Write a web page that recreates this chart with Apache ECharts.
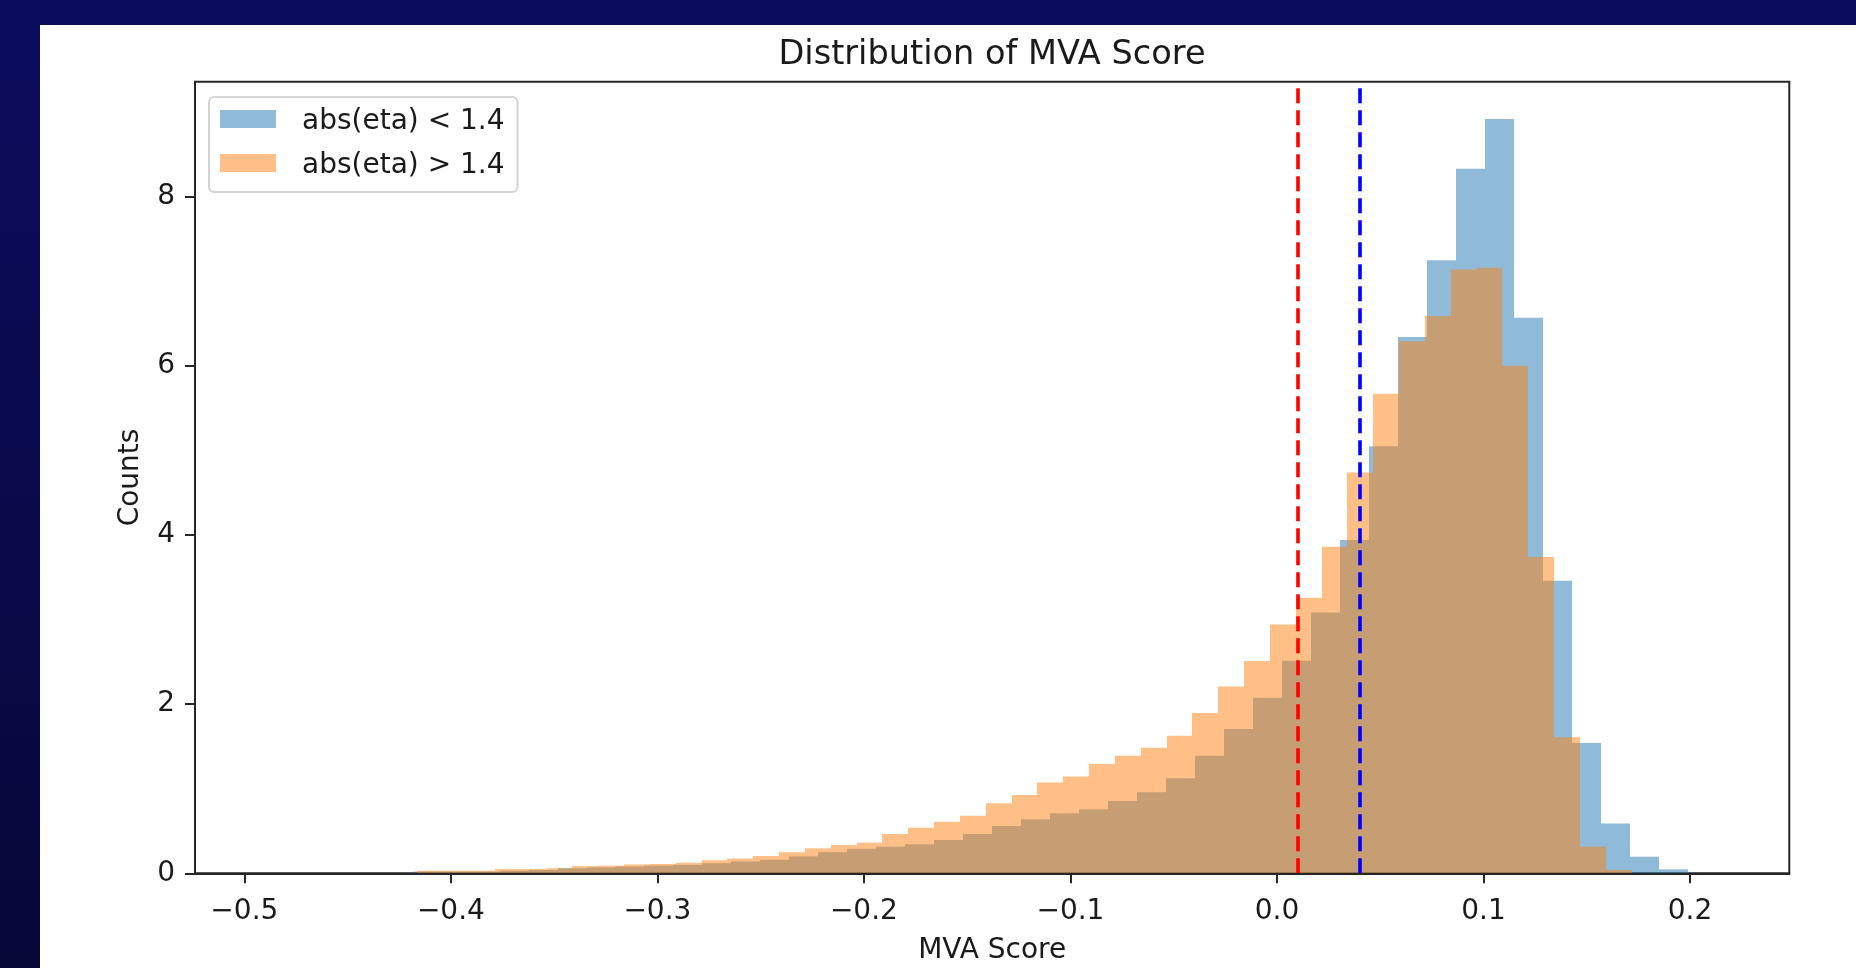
<!DOCTYPE html>
<html>
<head>
<meta charset="utf-8">
<title>Distribution of MVA Score</title>
<script src="https://cdn.jsdelivr.net/npm/echarts@6/dist/echarts.min.js"></script>
<style>
  html, body {
    margin: 0;
    padding: 0;
    width: 1856px;
    height: 968px;
    overflow: hidden;
    background: linear-gradient(to bottom, #0c0c5e 0%, #0a0a4e 45%, #070738 100%);
  }
  #sheet {
    position: absolute;
    left: 40px;
    top: 25px;
    right: 0;
    bottom: 0;
    background: #ffffff;
  }
  #chart {
    position: absolute;
    left: 0;
    top: 0;
    width: 1856px;
    height: 968px;
  }
</style>
</head>
<body>
<div id="sheet"></div>
<div id="chart"></div>
<script>
// Histogram of the MVA score, split by |eta| region.
// Each series: first bin edge, bin width, and the (normalised) count per bin.
const barrelName = 'abs(eta) < 1.4';
const barrelBinStart = -0.4185;
const barrelBinWidth = 0.01403;
const barrelCounts = [
  0.02, 0.02, 0.02, 0.03, 0.04, 0.06, 0.07, 0.08, 0.09, 0.10,
  0.12, 0.14, 0.16, 0.20, 0.25, 0.29, 0.315, 0.343, 0.394, 0.465,
  0.559, 0.638, 0.709, 0.756, 0.855, 0.957, 1.123, 1.390, 1.706, 2.076,
  2.513, 3.085, 3.94, 5.05, 6.34, 7.25, 8.33, 8.92, 6.57, 3.46,
  1.54, 0.59, 0.196, 0.047
];

const endcapName = 'abs(eta) > 1.4';
const endcapBinStart = -0.4162;
const endcapBinWidth = 0.01251;
const endcapCounts = [
  0.03, 0.03, 0.03, 0.05, 0.05, 0.06, 0.085, 0.09, 0.105, 0.11,
  0.125, 0.155, 0.175, 0.205, 0.25, 0.295, 0.334, 0.362, 0.465, 0.539,
  0.610, 0.681, 0.827, 0.925, 1.075, 1.146, 1.292, 1.390, 1.485, 1.627,
  1.895, 2.210, 2.509, 2.943, 3.258, 3.861, 4.74, 5.67, 6.29, 6.59,
  7.14, 7.16, 6.00, 3.74, 1.61, 0.315, 0.04
];

// Working-point cuts drawn as dashed vertical lines
const endcapCut = 0.0104;   // red
const barrelCut = 0.0380;   // blue

// Axis ranges and tick labels
const xRange = [-0.5239, 0.2481];
const yRange = [0, 9.36];
const xTicks = [-0.5, -0.4, -0.3, -0.2, -0.1, 0.0, 0.1, 0.2];
const yTicks = [0, 2, 4, 6, 8];

const FONT = 'DejaVu Sans';
const INK = '#1a1a1a';
const SPINE = '#262626';

function toBins(start, width, counts) {
  return counts.map((c, i) => [start + i * width, start + (i + 1) * width, c]);
}

function histRenderer(fill) {
  return function (params, api) {
    const topLeft = api.coord([api.value(0), api.value(2)]);
    const bottomRight = api.coord([api.value(1), 0]);
    const x0 = Math.round(topLeft[0]);
    const x1 = Math.round(bottomRight[0]);
    return {
      type: 'rect',
      shape: { x: x0, y: topLeft[1], width: x1 - x0, height: bottomRight[1] - topLeft[1] },
      style: { fill: fill }
    };
  };
}

function fmtX(v) {
  const s = Math.abs(v).toFixed(1);
  return v < -1e-9 ? '\u2212' + s : s;
}

const chart = echarts.init(document.getElementById('chart'), null, { renderer: 'canvas' });

chart.setOption({
  backgroundColor: 'transparent',
  animation: false,
  title: {
    text: 'Distribution of MVA Score',
    left: 992,
    top: 38.5,
    textAlign: 'center',
    padding: 0,
    textStyle: { fontFamily: FONT, fontSize: 33.6, fontWeight: 'normal', color: INK }
  },
  legend: {
    orient: 'vertical',
    left: 209,
    top: 97,
    padding: [11, 13, 12, 11],
    itemWidth: 56,
    itemHeight: 18,
    itemGap: 16,
    icon: 'rect',
    selectedMode: false,
    backgroundColor: 'rgba(255,255,255,0.8)',
    borderColor: '#d4d4d4',
    borderWidth: 2,
    borderRadius: 5,
    formatter: name => '{t|' + name + '}',
    textStyle: {
      fontFamily: FONT, fontSize: 28, color: INK,
      rich: { t: { fontFamily: FONT, fontSize: 28, color: INK, padding: [6, 0, 0, 21] } }
    },
    data: [
      { name: barrelName, itemStyle: { color: '#8fbbd9' } },
      { name: endcapName, itemStyle: { color: '#ffbf86' } }
    ]
  },
  grid: {
    left: 195,
    top: 81.7,
    right: 66.7,
    bottom: 94.7,
    containLabel: false,
    outerBoundsMode: 'none',
    show: true,
    backgroundColor: '#ffffff',
    borderColor: SPINE,
    borderWidth: 2
  },
  xAxis: {
    type: 'value',
    min: xRange[0],
    max: xRange[1],
    z: 10,
    name: 'MVA Score',
    nameLocation: 'middle',
    nameGap: 63.5,
    nameTextStyle: { fontFamily: FONT, fontSize: 28, color: INK },
    axisLine: { show: true, onZero: false, lineStyle: { color: SPINE, width: 2 } },
    axisTick: { show: true, length: 10, lineStyle: { color: SPINE, width: 2 }, customValues: xTicks },
    axisLabel: { customValues: xTicks, formatter: fmtX, fontFamily: FONT, fontSize: 28, color: INK, margin: 24 },
    splitLine: { show: false }
  },
  yAxis: {
    type: 'value',
    min: yRange[0],
    max: yRange[1],
    z: 10,
    name: 'Counts',
    nameLocation: 'middle',
    nameGap: 50,
    nameTextStyle: { fontFamily: FONT, fontSize: 28, color: INK },
    axisLine: { show: true, onZero: false, lineStyle: { color: SPINE, width: 2 } },
    axisTick: { show: true, length: 10, lineStyle: { color: SPINE, width: 2 }, customValues: yTicks },
    axisLabel: { customValues: yTicks, formatter: v => String(Math.round(v)), fontFamily: FONT, fontSize: 28, color: INK, margin: 20 },
    splitLine: { show: false }
  },
  series: [
    {
      name: barrelName,
      type: 'custom',
      renderItem: histRenderer('rgba(31,119,180,0.5)'),
      encode: { x: [0, 1], y: 2 },
      itemStyle: { color: '#8fbbd9' },
      silent: true,
      data: toBins(barrelBinStart, barrelBinWidth, barrelCounts),
      z: 2
    },
    {
      name: endcapName,
      type: 'custom',
      renderItem: histRenderer('rgba(255,127,14,0.5)'),
      encode: { x: [0, 1], y: 2 },
      itemStyle: { color: '#ffbf86' },
      silent: true,
      data: toBins(endcapBinStart, endcapBinWidth, endcapCounts),
      z: 3,
      markLine: {
        silent: true,
        symbol: ['none', 'none'],
        label: { show: false },
        emphasis: { disabled: true },
        lineStyle: { type: [15, 7], width: 3.6 },
        data: [
          { xAxis: endcapCut, lineStyle: { color: '#ff0000' } },
          { xAxis: barrelCut, lineStyle: { color: '#0000ff' } }
        ]
      }
    }
  ]
});
</script>
</body>
</html>
